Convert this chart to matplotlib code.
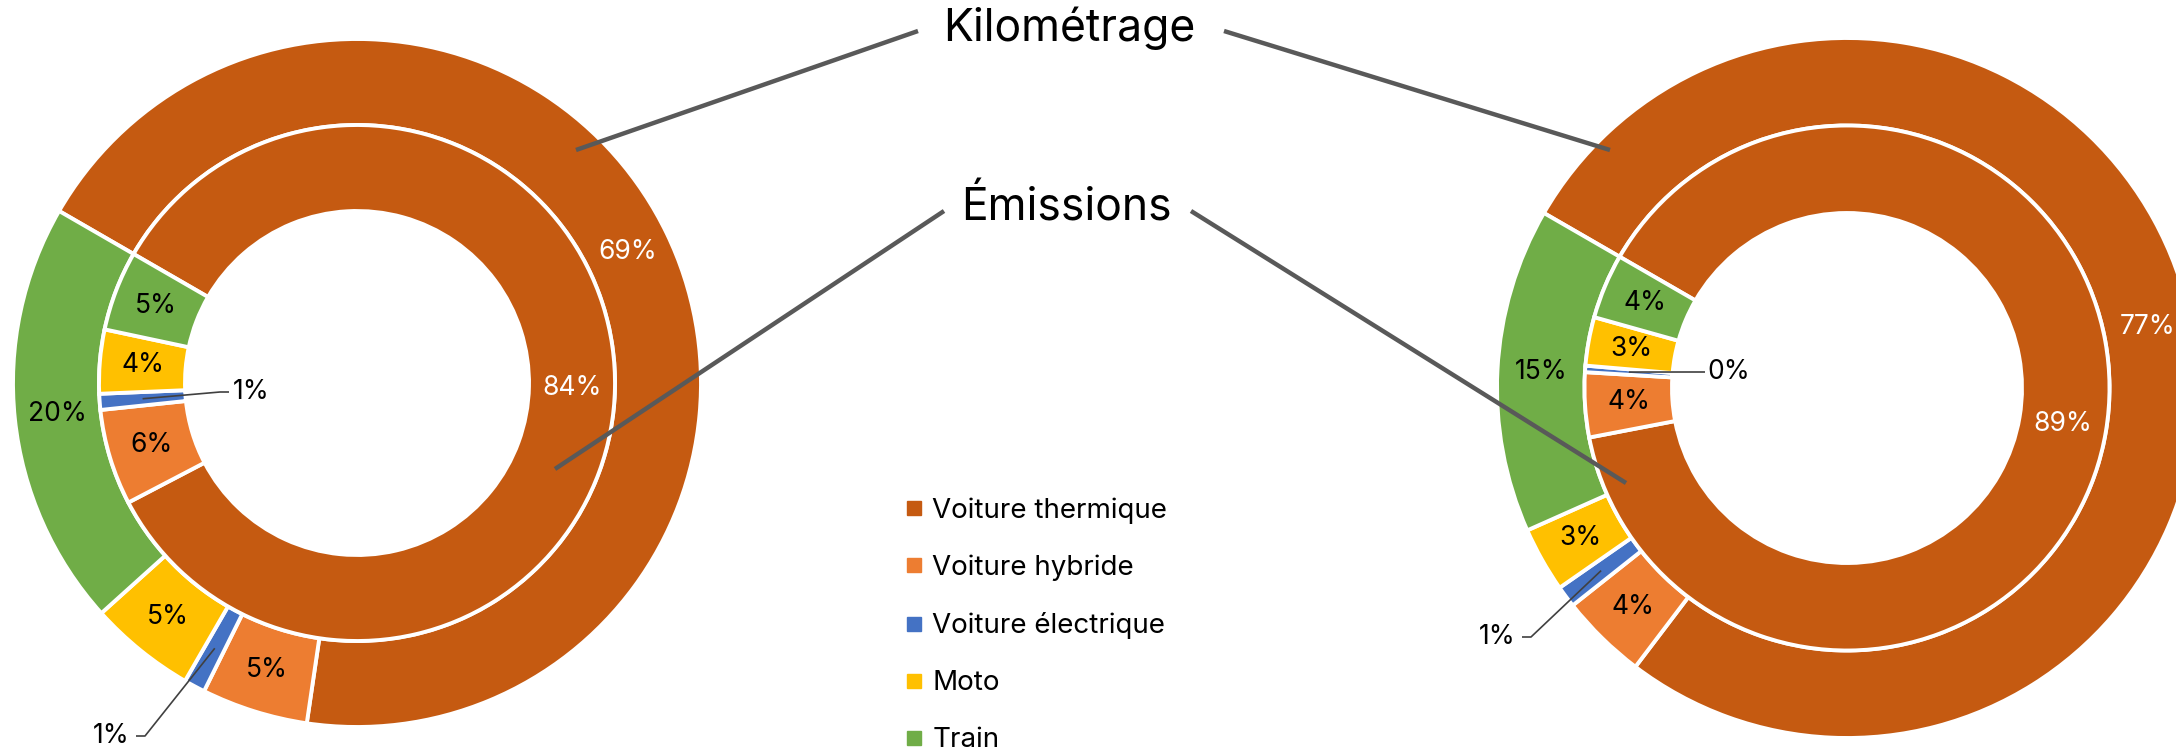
import numpy as np
import matplotlib.pyplot as plt
from matplotlib.lines import Line2D

plt.rcParams['font.family'] = ['Inter', 'DejaVu Sans']

W, H = 2176, 749

# Data
categories = ['Voiture thermique', 'Voiture hybride', 'Voiture électrique', 'Moto', 'Train']
colors = ['#C55A11', '#ED7D31', '#4472C4', '#FFC000', '#70AD47']
label_colors = ['white', 'black', 'black', 'black', 'black']

left_km = [69, 5, 1, 5, 20]
left_em = [84, 6, 1, 4, 5]
right_km = [77, 4, 1, 3, 15]
right_em = [89, 4, 0.4, 3, 4]

fig = plt.figure(figsize=(W / 100, H / 100), dpi=100)
ax = fig.add_axes([0, 0, 1, 1])


def polar(c, ang, r):
    a = np.deg2rad(ang)
    return c[0] + r * np.cos(a), c[1] + r * np.sin(a)


def ring(c, R, values, r_frac_out, r_frac_in, leaders):
    r_out = R * r_frac_out
    r_in = R * r_frac_in
    wedges, _ = ax.pie(values, radius=r_out, center=c, startangle=150,
                       counterclock=False, colors=colors, frame=True,
                       wedgeprops=dict(width=r_out - r_in, edgecolor='white', linewidth=2.8))
    r_mid = (r_out + r_in) / 2
    tot = sum(values)
    for i, w in enumerate(wedges):
        ang = (w.theta1 + w.theta2) / 2
        txt = f"{values[i] / tot * 100:.0f}%"
        if i in leaders:
            tx, ty, ex = leaders[i]
            px, py = polar(c, ang, r_mid)
            ax.plot([px, ex, ex + (9 if ex > px else -9)], [py, ty, ty],
                    color='#404040', lw=1.2, solid_capstyle='butt')
            ax.text(tx, ty, txt, ha='center', va='center', fontsize=19, color='black')
        else:
            x, y = polar(c, ang, r_mid)
            ax.text(x, y, txt, ha='center', va='center', fontsize=19, color=label_colors[i])


cL = (357, H - 383)
RL = 344
cR = (1847, H - 388)
RR = 350

ring(cL, RL, left_km, 1.0, 0.75, {2: (111, H - 736, 145)})
ring(cL, RL, left_em, 0.75, 0.5, {2: (251, H - 392, 220)})
ring(cR, RR, right_km, 1.0, 0.75, {2: (1497, H - 637, 1531)})
ring(cR, RR, right_em, 0.75, 0.5, {2: (1729, H - 372, 1696)})

# Callouts
ax.text(1069, H - 28, 'Kilométrage', ha='center', va='center', fontsize=32, color='black')
ax.text(1066, H - 208, 'Émissions', ha='center', va='center', fontsize=32, color='black')
for (x0, y0), (x1, y1) in [((918, 31), (576, 150)), ((1224, 31), (1610, 150)),
                           ((944, 211), (555, 469)), ((1191, 211), (1626, 483))]:
    ax.plot([x0, x1], [H - y0, H - y1], color='#595959', lw=3.2, solid_capstyle='butt')

handles = [Line2D([], [], marker='s', ls='', color=c, markersize=10) for c in colors]
fig.legend(handles, categories, loc='upper left', bbox_to_anchor=(903 / W, 1 - 497 / H),
           frameon=False, fontsize=20, handletextpad=0.25, labelspacing=1.12,
           borderpad=0, borderaxespad=0, handlelength=0.8)

ax.set_xlim(0, W)
ax.set_ylim(0, H)
ax.set_aspect('equal')
ax.axis('off')

fig.savefig('out.png', dpi=100)
